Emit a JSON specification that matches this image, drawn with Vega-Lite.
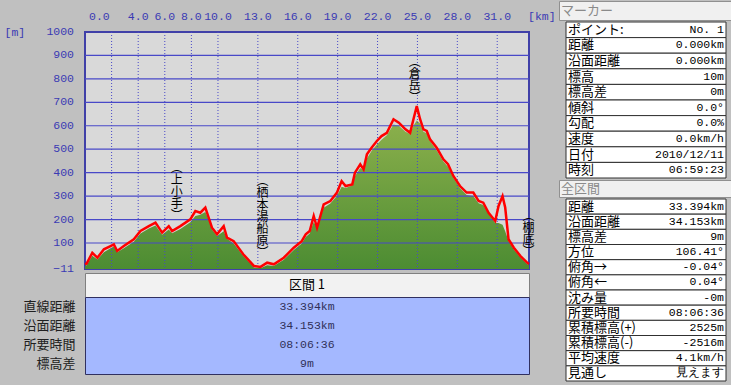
{
  "$schema": "https://vega.github.io/schema/vega-lite/v6.json",
  "background": "#c0c0c0",
  "padding": {"left": 0, "top": 0, "right": 1, "bottom": 5},
  "config": {"view": {"stroke": null}, "text": {"font": "Noto Sans CJK JP"}},
  "datasets": {
    "prof": [
      {"km": 0.0, "gps": 10, "dem": 2}, {"km": 0.12, "gps": 12, "dem": 5}, {"km": 0.55, "gps": 58, "dem": 45},
      {"km": 0.93, "gps": 37, "dem": 30}, {"km": 1.42, "gps": 73, "dem": 60}, {"km": 1.92, "gps": 87, "dem": 78},
      {"km": 2.17, "gps": 94, "dem": 85}, {"km": 2.42, "gps": 66, "dem": 60}, {"km": 2.92, "gps": 87, "dem": 78},
      {"km": 3.67, "gps": 116, "dem": 105}, {"km": 4.17, "gps": 151, "dem": 140}, {"km": 4.8, "gps": 172, "dem": 162},
      {"km": 5.3, "gps": 187, "dem": 175}, {"km": 5.8, "gps": 144, "dem": 135}, {"km": 6.3, "gps": 172, "dem": 158},
      {"km": 6.55, "gps": 151, "dem": 142}, {"km": 7.17, "gps": 172, "dem": 160}, {"km": 7.92, "gps": 201, "dem": 188},
      {"km": 8.3, "gps": 236, "dem": 215}, {"km": 8.67, "gps": 229, "dem": 220}, {"km": 9.05, "gps": 251, "dem": 232},
      {"km": 9.3, "gps": 208, "dem": 200}, {"km": 9.55, "gps": 165, "dem": 158}, {"km": 9.93, "gps": 137, "dem": 130},
      {"km": 10.43, "gps": 172, "dem": 150}, {"km": 10.68, "gps": 123, "dem": 118}, {"km": 11.18, "gps": 108, "dem": 98},
      {"km": 11.9, "gps": 52, "dem": 45}, {"km": 12.7, "gps": 2, "dem": -5}, {"km": 13.2, "gps": -2, "dem": -8},
      {"km": 13.7, "gps": 16, "dem": 5}, {"km": 14.2, "gps": 9, "dem": 2}, {"km": 14.95, "gps": 37, "dem": 28},
      {"km": 15.7, "gps": 80, "dem": 70}, {"km": 16.3, "gps": 108, "dem": 98}, {"km": 16.6, "gps": 137, "dem": 125},
      {"km": 16.9, "gps": 151, "dem": 140}, {"km": 17.2, "gps": 215, "dem": 190}, {"km": 17.45, "gps": 165, "dem": 165},
      {"km": 17.95, "gps": 265, "dem": 250}, {"km": 18.45, "gps": 279, "dem": 268}, {"km": 18.95, "gps": 315, "dem": 302},
      {"km": 19.3, "gps": 364, "dem": 340}, {"km": 19.6, "gps": 343, "dem": 335}, {"km": 20.1, "gps": 350, "dem": 345},
      {"km": 20.3, "gps": 400, "dem": 385}, {"km": 20.7, "gps": 436, "dem": 420}, {"km": 20.95, "gps": 414, "dem": 410},
      {"km": 21.2, "gps": 478, "dem": 460}, {"km": 21.55, "gps": 506, "dem": 492}, {"km": 21.95, "gps": 535, "dem": 520},
      {"km": 22.3, "gps": 556, "dem": 540}, {"km": 22.7, "gps": 570, "dem": 560}, {"km": 23.2, "gps": 628, "dem": 605},
      {"km": 23.6, "gps": 613, "dem": 600}, {"km": 24.1, "gps": 585, "dem": 575}, {"km": 24.45, "gps": 570, "dem": 565},
      {"km": 24.7, "gps": 628, "dem": 600}, {"km": 24.95, "gps": 684, "dem": 622}, {"km": 25.2, "gps": 628, "dem": 610},
      {"km": 25.45, "gps": 585, "dem": 575}, {"km": 25.7, "gps": 578, "dem": 568}, {"km": 25.95, "gps": 542, "dem": 535},
      {"km": 26.45, "gps": 506, "dem": 495}, {"km": 26.95, "gps": 457, "dem": 448}, {"km": 27.3, "gps": 436, "dem": 425},
      {"km": 27.7, "gps": 386, "dem": 378}, {"km": 28.2, "gps": 343, "dem": 335}, {"km": 28.7, "gps": 315, "dem": 305},
      {"km": 29.2, "gps": 315, "dem": 300}, {"km": 29.6, "gps": 279, "dem": 270}, {"km": 29.95, "gps": 272, "dem": 262},
      {"km": 30.35, "gps": 229, "dem": 225}, {"km": 30.85, "gps": 194, "dem": 185}, {"km": 31.1, "gps": 258, "dem": 185},
      {"km": 31.4, "gps": 300, "dem": 178}, {"km": 31.6, "gps": 251, "dem": 150}, {"km": 31.85, "gps": 116, "dem": 108},
      {"km": 32.25, "gps": 80, "dem": 72}, {"km": 32.75, "gps": 44, "dem": 38}, {"km": 33.25, "gps": 16, "dem": 10},
      {"km": 33.39, "gps": 10, "dem": 5}
    ],
    "labs": [
      {"km": 6.9, "e": 440, "t": "︵|上|小|手|︶"},
      {"km": 13.35, "e": 385, "t": "︵|栖|本|湯|船|原|︶"},
      {"km": 24.8, "e": 895, "t": "︵|倉|岳|︶"},
      {"km": 33.35, "e": 236, "t": "︵|棚|底|︶"}
    ],
    "bot": [
      {"k": "直線距離", "v": "33.394km"},
      {"k": "沿面距離", "v": "34.153km"},
      {"k": "所要時間", "v": "08:06:36"},
      {"k": "標高差", "v": "9m"}
    ],
    "mk": [
      {"k": "ポイント:", "v": "No. 1"},
      {"k": "距離", "v": "0.000km"},
      {"k": "沿面距離", "v": "0.000km"},
      {"k": "標高", "v": "10m"},
      {"k": "標高差", "v": "0m"},
      {"k": "傾斜", "v": "0.0°"},
      {"k": "勾配", "v": "0.0%"},
      {"k": "速度", "v": "0.0km/h"},
      {"k": "日付", "v": "2010/12/11"},
      {"k": "時刻", "v": "06:59:23"}
    ],
    "zk": [
      {"k": "距離", "v": "33.394km"},
      {"k": "沿面距離", "v": "34.153km"},
      {"k": "標高差", "v": "9m"},
      {"k": "方位", "v": "106.41°"},
      {"k": "俯角→", "v": "-0.04°"},
      {"k": "俯角←", "v": "0.04°"},
      {"k": "沈み量", "v": "-0m"},
      {"k": "所要時間", "v": "08:06:36"},
      {"k": "累積標高(+)", "v": "2525m"},
      {"k": "累積標高(-)", "v": "-2516m"},
      {"k": "平均速度", "v": "4.1km/h"},
      {"k": "見通し", "v": "見えます"}
    ]
  },
  "spacing": 2,
  "hconcat": [
    {
      "bounds": "flush",
      "spacing": 4,
      "vconcat": [
        {
          "width": 444,
          "height": 27,
          "encoding": {
            "y": {"datum": 0.5, "type": "quantitative", "scale": {"domain": [0, 1]},
                  "axis": {"labels": false, "ticks": false, "domain": false, "grid": false, "title": null, "minExtent": 84, "maxExtent": 84}}
          },
          "layer": [
            {
              "data": {"values": [{"v": 4}, {"v": 6}, {"v": 8}, {"v": 10}, {"v": 13}, {"v": 16}, {"v": 19}, {"v": 22}, {"v": 25}, {"v": 28}, {"v": 31}]},
              "mark": {"type": "text", "font": "Liberation Mono", "fontSize": 11.5, "color": "#3a3ab4", "dy": 2.5},
              "encoding": {
                "x": {"field": "v", "type": "quantitative", "scale": {"domain": [0, 33.39], "nice": false, "zero": false}, "axis": null},
                "text": {"field": "v", "type": "quantitative", "format": ".1f"}
              }
            },
            {
              "data": {"values": [{"v": 0}]},
              "mark": {"type": "text", "font": "Liberation Mono", "fontSize": 11.5, "color": "#3a3ab4", "align": "left", "dx": 4, "dy": 2.5},
              "encoding": {
                "x": {"field": "v", "type": "quantitative"},
                "text": {"field": "v", "type": "quantitative", "format": ".1f"}
              }
            },
            {
              "data": {"values": [{"v": 33.39, "u": "[km]"}]},
              "mark": {"type": "text", "font": "Liberation Mono", "fontSize": 11.5, "color": "#3a3ab4", "align": "left", "dx": -1, "dy": 2.5},
              "encoding": {
                "x": {"field": "v", "type": "quantitative"},
                "text": {"field": "u"}
              }
            }
          ]
        },
        {
          "width": 444,
          "height": 237,
          "view": {"fill": "#d9d9d9", "stroke": "#4040a8", "strokeWidth": 2},
          "layer": [
            {
              "data": {"name": "prof"},
              "mark": {
                "type": "area",
                "fill": {
                  "gradient": "linear", "x1": 0, "y1": 0, "x2": 0, "y2": 1,
                  "stops": [{"offset": 0, "color": "#8cb04c"}, {"offset": 1, "color": "#4c8c32"}]
                }
              },
              "encoding": {
                "x": {
                  "field": "km", "type": "quantitative",
                  "scale": {"domain": [0, 33.39], "nice": false, "zero": false},
                  "axis": null
                },
                "y": {
                  "field": "dem", "type": "quantitative",
                  "scale": {"domain": [-11, 1000], "nice": false, "zero": false},
                  "axis": {
                    "values": [100], "labels": false,
                    "ticks": false, "domain": false, "grid": false,
                    "title": "[m]", "titleAngle": 0, "titleX": -81, "titleY": 0,
                    "titleAlign": "left", "titleBaseline": "middle", "titleFont": "Liberation Mono",
                    "titleFontSize": 11.5, "titleFontWeight": "normal", "titleColor": "#3a3ab4",
                    "minExtent": 84, "maxExtent": 84
                  }
                },
                "y2": {"datum": -11}
              }
            },
            {
              "data": {"values": [{"v": 100}, {"v": 200}, {"v": 300}, {"v": 400}, {"v": 500}, {"v": 600}, {"v": 700}, {"v": 800}, {"v": 900}]},
              "mark": {"type": "rule", "color": "#4848c8", "strokeWidth": 1.2},
              "encoding": {"y": {"field": "v", "type": "quantitative"}}
            },
            {
              "data": {"values": [{"v": 2}, {"v": 4}, {"v": 6}, {"v": 8}, {"v": 10}, {"v": 13}, {"v": 16}, {"v": 19}, {"v": 22}, {"v": 25}, {"v": 28}, {"v": 31}]},
              "mark": {"type": "rule", "color": "#4848c8", "strokeWidth": 1, "strokeDash": [1, 2]},
              "encoding": {"x": {"field": "v", "type": "quantitative"}}
            },
            {
              "data": {"name": "prof"},
              "mark": {"type": "line", "color": "#ff0000", "strokeWidth": 2.5},
              "encoding": {
                "x": {"field": "km", "type": "quantitative"},
                "y": {"field": "gps", "type": "quantitative"}
              }
            },
            {
              "data": {"name": "labs"},
              "mark": {"type": "text", "lineBreak": "|", "baseline": "top", "fontSize": 12, "lineHeight": 12, "color": "#000000"},
              "encoding": {
                "x": {"field": "km", "type": "quantitative"},
                "y": {"field": "e", "type": "quantitative"},
                "text": {"field": "t"}
              }
            },
            {
              "data": {"values": [{"v": -11}, {"v": 100}, {"v": 200}, {"v": 300}, {"v": 400}, {"v": 500}, {"v": 600}, {"v": 700}, {"v": 800}, {"v": 900}, {"v": 1000}]},
              "mark": {"type": "text", "align": "right", "baseline": "middle", "dx": -11, "font": "Liberation Mono", "fontSize": 11.5, "color": "#3a3ab4"},
              "encoding": {
                "x": {"datum": 0, "type": "quantitative"},
                "y": {"field": "v", "type": "quantitative"},
                "text": {"field": "v", "type": "quantitative", "format": "d"}
              }
            }
          ]
        },
        {
          "bounds": "flush",
          "spacing": 0,
          "vconcat": [
            {
              "width": 444,
              "height": 24,
              "view": {"fill": "#f2f2f2", "stroke": "#808080"},
              "data": {"values": [{"h": "区間 1"}]},
              "mark": {"type": "text", "fontSize": 13, "color": "#000000"},
              "encoding": {
                "y": {"field": "h", "type": "nominal", "axis": {"labels": false, "ticks": false, "domain": false, "title": null, "minExtent": 84, "maxExtent": 84}},
                "text": {"field": "h"}
              }
            },
            {
              "width": 444,
              "height": 77,
              "view": {"fill": "#a4b8ff", "stroke": "#303060"},
              "data": {"name": "bot"},
              "mark": {"type": "text", "font": "Liberation Mono", "fontSize": 11.5, "color": "#303058"},
              "encoding": {
                "y": {
                  "field": "k", "type": "nominal", "sort": null,
                  "scale": {"type": "band", "paddingInner": 0, "paddingOuter": 0},
                  "axis": {"title": null, "ticks": false, "domain": false, "labelPadding": 10, "labelFont": "Noto Sans CJK JP", "labelFontSize": 13, "labelColor": "#202020", "minExtent": 84, "maxExtent": 84}
                },
                "text": {"field": "v"}
              }
            }
          ]
        }
      ]
    },
    {
      "bounds": "flush",
      "spacing": 2,
      "vconcat": [
        {
          "width": 174,
          "height": 19,
          "view": {"fill": "#f0f0f0", "stroke": "#909090"},
          "data": {"values": [{"h": "マーカー"}]},
          "mark": {"type": "text", "align": "left", "dx": 2, "fontSize": 13, "color": "#8a8a8a"},
          "encoding": {
            "x": {"datum": 0, "type": "quantitative", "scale": {"domain": [0, 1]}, "axis": null},
            "text": {"field": "h"}
          }
        },
        {
          "width": 174,
          "height": 156,
          "data": {"name": "mk"},
          "encoding": {
            "y": {
              "field": "k", "type": "nominal", "sort": null,
              "scale": {"type": "band", "paddingInner": 0, "paddingOuter": 0},
              "axis": null
            }
          },
          "layer": [
            {
              "mark": {"type": "rect", "fill": "#ffffff", "stroke": "#303030", "strokeWidth": 1},
              "encoding": {
                "x": {"datum": 0, "type": "quantitative", "scale": {"domain": [0, 1], "padding": 7, "nice": false, "zero": false}, "axis": null},
                "x2": {"datum": 1}
              }
            },
            {
              "mark": {"type": "text", "align": "left", "dx": 2, "fontSize": 13, "color": "#000000"},
              "encoding": {"x": {"datum": 0, "type": "quantitative"}, "text": {"field": "k"}}
            },
            {
              "mark": {"type": "text", "align": "right", "dx": -2, "font": "Liberation Mono", "fontSize": 11.5, "color": "#000000"},
              "encoding": {"x": {"datum": 1, "type": "quantitative"}, "text": {"field": "v"}}
            }
          ]
        },
        {
          "width": 174,
          "height": 17,
          "view": {"fill": "#f0f0f0", "stroke": "#909090"},
          "data": {"values": [{"h": "全区間"}]},
          "mark": {"type": "text", "align": "left", "dx": 2, "fontSize": 13, "color": "#8a8a8a"},
          "encoding": {
            "x": {"datum": 0, "type": "quantitative", "scale": {"domain": [0, 1]}, "axis": null},
            "text": {"field": "h"}
          }
        },
        {
          "width": 174,
          "height": 182,
          "data": {"name": "zk"},
          "encoding": {
            "y": {
              "field": "k", "type": "nominal", "sort": null,
              "scale": {"type": "band", "paddingInner": 0, "paddingOuter": 0},
              "axis": null
            }
          },
          "layer": [
            {
              "mark": {"type": "rect", "fill": "#ffffff", "stroke": "#303030", "strokeWidth": 1},
              "encoding": {
                "x": {"datum": 0, "type": "quantitative", "scale": {"domain": [0, 1], "padding": 7, "nice": false, "zero": false}, "axis": null},
                "x2": {"datum": 1}
              }
            },
            {
              "mark": {"type": "text", "align": "left", "dx": 2, "fontSize": 13, "color": "#000000"},
              "encoding": {"x": {"datum": 0, "type": "quantitative"}, "text": {"field": "k"}}
            },
            {
              "mark": {"type": "text", "align": "right", "dx": -2, "font": "Liberation Mono", "fontSize": 11.5, "color": "#000000"},
              "encoding": {"x": {"datum": 1, "type": "quantitative"}, "text": {"field": "v"}}
            }
          ]
        }
      ]
    }
  ]
}
